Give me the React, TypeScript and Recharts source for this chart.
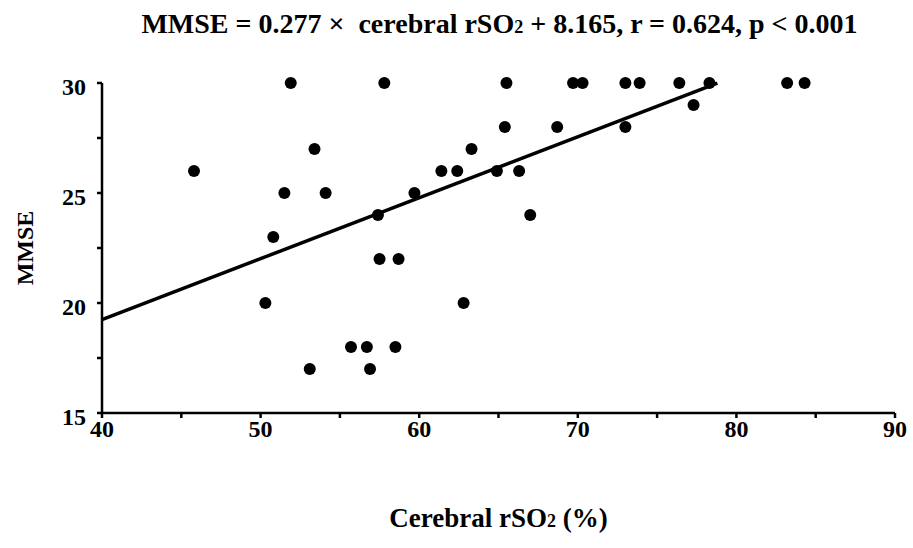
import { ScatterChart, Scatter, XAxis, YAxis, ReferenceLine, Label } from 'recharts'

// cerebral rSO2 (%) per patient
const rso2 = [
  45.8, 50.3, 50.8, 51.5, 51.9, 53.1, 53.4, 54.1, 55.7, 56.7, 56.9, 57.4, 57.5,
  57.8, 58.5, 58.7, 59.7, 61.4, 62.4, 62.8, 63.3, 64.9, 65.4, 65.5, 66.3, 67.0,
  68.7, 69.7, 70.3, 73.0, 73.0, 73.9, 76.4, 77.3, 78.3, 83.2, 84.3,
]
// MMSE score per patient
const mmse = [
  26, 20, 23, 25, 30, 17, 27, 25, 18, 18, 17, 24, 22,
  30, 18, 22, 25, 26, 26, 20, 27, 26, 28, 30, 26, 24,
  28, 30, 30, 30, 28, 30, 30, 29, 30, 30, 30,
]

const xTicks = [40, 45, 50, 55, 60, 65, 70, 75, 80, 85, 90]
const yTicks = [15, 17.5, 20, 22.5, 25, 27.5, 30]

// regression from the title
const slope = 0.277
const intercept = 8.165
const fitRange = [40, 78.8]

const points = rso2.map((x, i) => ({ x, y: mmse[i] }))
const fitSegment = fitRange.map((x) => ({ x, y: slope * x + intercept }))

const FONT = '"Liberation Serif", "Times New Roman", serif'

const XTick = ({ x, y, payload }: any) => {
  if (payload.value % 10 !== 0) return null
  return (
    <text x={x} y={y} dy={17} textAnchor="middle" fontFamily={FONT} fontWeight="bold" fontSize={24} fill="#000">
      {payload.value}
    </text>
  )
}

const YTick = ({ x, y, payload }: any) => {
  if (payload.value % 5 !== 0) return null
  return (
    <text x={x} y={y} dy={12} textAnchor="end" fontFamily={FONT} fontWeight="bold" fontSize={24} fill="#000">
      {payload.value}
    </text>
  )
}

const Dot = ({ cx, cy }: any) => <circle cx={cx} cy={cy} r={6} fill="#000" />

export default function App() {
  return (
    <div style={{ position: 'absolute', left: 0, top: 0, width: 913, height: 548, background: '#fff' }}>
      <div
        style={{
          position: 'absolute',
          left: 0,
          top: 10,
          width: 913,
          textAlign: 'center',
          transform: 'translateX(43px)',
          fontFamily: FONT,
          fontWeight: 'bold',
          fontSize: 28,
          lineHeight: '28px',
          color: '#000',
          whiteSpace: 'nowrap',
        }}
      >
        MMSE = 0.277 ×&nbsp; cerebral rSO<span style={{ fontSize: 18 }}>2</span> + 8.165, r = 0.624, p &lt; 0.001
      </div>
      <ScatterChart width={913} height={548} margin={{ top: 83, right: 18, left: 0, bottom: 75 }}>
        <XAxis
          type="number"
          dataKey="x"
          domain={[40, 90]}
          ticks={xTicks}
          interval={0}
          height={60}
          stroke="#000"
          strokeWidth={2.5}
          tickSize={5}
          tickMargin={2}
          tick={<XTick />}
        >
          <Label
            content={({ viewBox }: any) => {
              const vb = viewBox || { x: 102, y: 413, width: 793 }
              return (
                <text x={vb.x + vb.width / 2} y={vb.y + 114} textAnchor="middle" fontFamily={FONT} fontWeight="bold" fontSize={27} fill="#000">
                  Cerebral rSO<tspan fontSize={18}>2</tspan> (%)
                </text>
              )
            }}
          />
        </XAxis>
        <YAxis
          type="number"
          dataKey="y"
          domain={[15, 30]}
          ticks={yTicks}
          interval={0}
          width={102}
          stroke="#000"
          strokeWidth={2.5}
          tickSize={5}
          tickMargin={11}
          tick={<YTick />}
        >
          <Label
            content={({ viewBox }: any) => {
              const vb = viewBox || { x: 0, y: 83, height: 330 }
              const cx = 25
              const cy = vb.y + vb.height / 2
              return (
                <text x={cx} y={cy} transform={`rotate(-90, ${cx}, ${cy})`} textAnchor="middle" dominantBaseline="central" fontFamily={FONT} fontWeight="bold" fontSize={24} fill="#000">
                  MMSE
                </text>
              )
            }}
          />
        </YAxis>
        <ReferenceLine segment={fitSegment} stroke="#000" strokeWidth={3.5} ifOverflow="visible" />
        <Scatter data={points} fill="#000" shape={<Dot />} isAnimationActive={false} />
      </ScatterChart>
    </div>
  )
}
